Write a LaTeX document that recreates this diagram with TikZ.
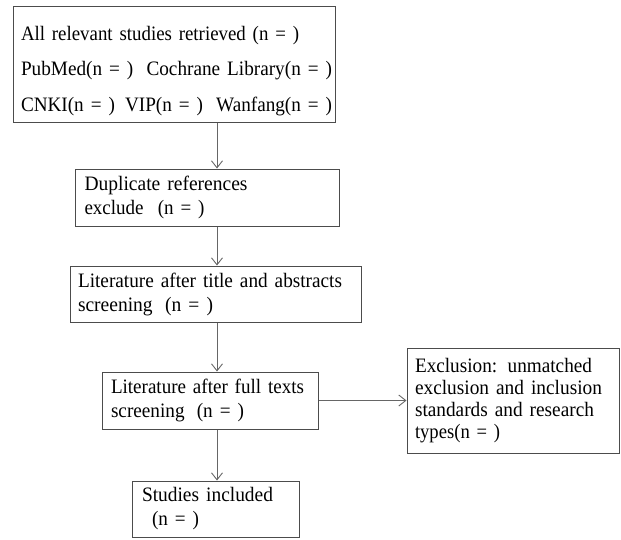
\documentclass[tikz,border=0pt]{standalone}
\usepackage{fontspec}
\usepackage{graphicx}
\setmainfont[FakeStretch=0.92]{Liberation Serif}
\usetikzlibrary{arrows.meta}
\newcommand{\fitln}[2]{\resizebox{#1}{\height}{#2}}
\begin{document}
\begin{tikzpicture}[x=1pt,y=-1pt,
  box/.style={draw=black!70, line width=1pt, rectangle, align=left, inner xsep=0pt, inner ysep=0pt, text=black},
  arr/.style={draw=black!60, line width=0.9pt, -{Straight Barb[length=7pt,width=11pt,line width=0.9pt]}}]
\useasboundingbox (0,0) rectangle (621,539);
\node[box, minimum width=322pt, minimum height=116pt, text width=306pt,
  font=\fontsize{20.5}{35.5}\selectfont] (b1) at (174,64)
  {\rule{0pt}{28pt}\fitln{278pt}{All relevant studies retrieved (n = )}\\
   \fitln{311pt}{PubMed(n = )\hspace{13pt}Cochrane Library(n = )}\\
   \fitln{311pt}{CNKI(n = )\hspace{10pt}VIP(n = )\hspace{13pt}Wanfang(n = )}};
\node[box, minimum width=264pt, minimum height=57pt, text width=246pt,
  font=\fontsize{20.5}{24}\selectfont] (b2) at (207.5,197.5)
  {\fitln{163pt}{Duplicate references}\\\fitln{120pt}{exclude\hspace{14pt}(n = )}};
\node[box, minimum width=291pt, minimum height=56pt, text width=275pt,
  font=\fontsize{20.5}{24}\selectfont] (b3) at (215.5,294)
  {\fitln{264pt}{Literature after title and abstracts}\\\fitln{135pt}{screening\hspace{12pt}(n = )}};
\node[box, minimum width=216pt, minimum height=57pt, text width=198pt,
  font=\fontsize{20.5}{24}\selectfont] (b4) at (210,400.5)
  {\fitln{193pt}{Literature after full texts}\\\fitln{133pt}{screening\hspace{12pt}(n = )}};
\node[box, minimum width=212pt, minimum height=105pt, text width=196pt,
  font=\fontsize{20.5}{22}\selectfont] (b5) at (513,400.5)
  {\fitln{177pt}{Exclusion: unmatched}\\\fitln{187pt}{exclusion and inclusion}\\\fitln{179pt}{standards and research}\\\fitln{85pt}{types(n = )}};
\node[box, minimum width=167pt, minimum height=56pt, text width=147pt,
  font=\fontsize{20.5}{24}\selectfont] (b6) at (215.5,509)
  {\fitln{131pt}{Studies included}\\\hspace{10pt}\fitln{47pt}{(n = )}};
\coordinate (ax) at (217,0);
\draw[arr] (b1.south -| ax) -- (b2.north -| ax);
\draw[arr] (b2.south -| ax) -- (b3.north -| ax);
\draw[arr] (b3.south -| ax) -- (b4.north -| ax);
\draw[arr] (b4.south -| ax) -- (b6.north -| ax);
\draw[arr] (b4.east) -- (b5.west);
\end{tikzpicture}
\end{document}
